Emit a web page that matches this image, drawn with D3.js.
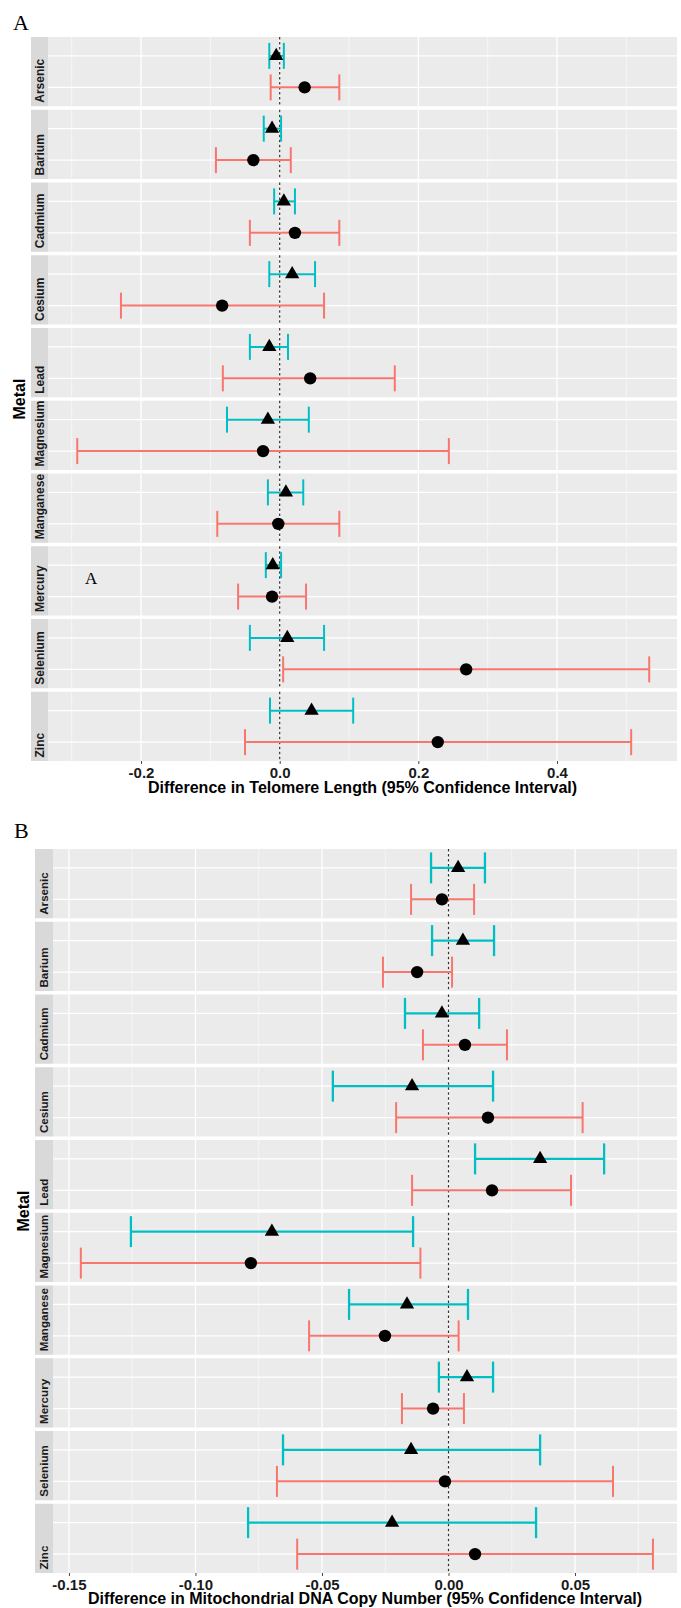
<!DOCTYPE html>
<html>
<head>
<meta charset="utf-8">
<script src="https://cdn.jsdelivr.net/npm/d3@7"></script>
<style>
    body { margin: 0; background: #fff; }
    svg text { font-family: "Liberation Sans", Arial, sans-serif; }
</style>
</head>
<body>
<script>
/*--------- Data -----------------*/

var metals = ["Arsenic", "Barium", "Cadmium", "Cesium", "Lead", "Magnesium", "Manganese", "Mercury", "Selenium", "Zinc"];
var groups = ["triangle", "circle"];

// telomere length (panel A)
var telo_tri_est = [-0.005, -0.011, 0.006, 0.018, -0.015, -0.017, 0.009, -0.010, 0.011, 0.046];
var telo_tri_lo = [-0.015, -0.023, -0.008, -0.015, -0.043, -0.076, -0.017, -0.020, -0.043, -0.014];
var telo_tri_hi = [0.006, 0.002, 0.022, 0.051, 0.012, 0.042, 0.034, 0.002, 0.064, 0.106];
var telo_circ_est = [0.036, -0.038, 0.022, -0.083, 0.044, -0.024, -0.002, -0.011, 0.269, 0.228];
var telo_circ_lo = [-0.013, -0.092, -0.043, -0.229, -0.082, -0.292, -0.090, -0.060, 0.005, -0.050];
var telo_circ_hi = [0.086, 0.016, 0.086, 0.064, 0.166, 0.244, 0.086, 0.038, 0.533, 0.507];

// mitochondrial DNA copy number (panel B)
var mt_tri_est = [0.0038, 0.0057, -0.0026, -0.0144, 0.0362, -0.0698, -0.0164, 0.0073, -0.0148, -0.0223];
var mt_tri_lo = [-0.0069, -0.0065, -0.0172, -0.0457, 0.0105, -0.1255, -0.0393, -0.0038, -0.0654, -0.0792];
var mt_tri_hi = [0.0144, 0.0180, 0.0121, 0.0176, 0.0615, -0.0140, 0.0077, 0.0176, 0.0362, 0.0346];
var mt_circ_est = [-0.0026, -0.0124, 0.0065, 0.0156, 0.0172, -0.0781, -0.0251, -0.0061, -0.0014, 0.0105];
var mt_circ_lo = [-0.0148, -0.0259, -0.0101, -0.0207, -0.0144, -0.1453, -0.0551, -0.0184, -0.0678, -0.0598];
var mt_circ_hi = [0.0101, 0.0014, 0.0231, 0.0530, 0.0484, -0.0111, 0.0040, 0.0061, 0.0650, 0.0808];

var telo_ticks = [-0.2, 0, 0.2, 0.4];
var telo_minor = [-0.3, -0.1, 0.1, 0.3, 0.5];
var mt_ticks = [-0.15, -0.10, -0.05, 0, 0.05];
var mt_minor = [-0.125, -0.075, -0.025, 0.025, 0.075];

var cyan = "#00BFC4";
var red = "#F8766D";

/*--------- svg -----------------*/
var width = 681;
var height = 1608;

var svg = d3.select("body")
    .append("svg")
    .attr("width", width)
    .attr("height", height);

/*--------- one forest panel -----------------*/
function drawPanel(p) {
    var x = d3.scaleLinear()
        .domain(p.domain)
        .range([p.left, p.right]);

    var facet = d3.scaleBand()
        .domain(metals)
        .range([p.top, p.bottom])
        .paddingInner(0.048);

    var row = d3.scalePoint()
        .domain(groups)
        .range([0, facet.bandwidth()])
        .padding(0.6);

    var bw = facet.bandwidth();
    var g = svg.append("g");

    var f = g.selectAll(".facet")
        .data(metals)
        .enter()
        .append("g")
        .attr("transform", function (d) { return "translate(0," + facet(d) + ")"; });

    // strip on the left
    f.append("rect")
        .attr("x", p.stripLeft)
        .attr("width", p.left - p.stripLeft)
        .attr("height", bw)
        .attr("fill", "#d9d9d9");

    f.append("text")
        .attr("transform", "translate(" + p.stripText + "," + (bw - 3.5) + ") rotate(-90)")
        .style("font-size", p.stripSize + "px")
        .style("font-weight", "bold")
        .attr("fill", "#1a1a1a")
        .text(function (d) { return d; });

    // panel background + grid
    f.append("rect")
        .attr("x", p.left)
        .attr("width", p.right - p.left)
        .attr("height", bw)
        .attr("fill", "#ebebeb");

    f.selectAll(".minor")
        .data(p.minor)
        .enter()
        .append("line")
        .attr("x1", function (d) { return x(d); })
        .attr("x2", function (d) { return x(d); })
        .attr("y1", 0)
        .attr("y2", bw)
        .attr("stroke", "#fafafa")
        .attr("stroke-width", 0.7);

    f.selectAll(".major")
        .data(p.ticks)
        .enter()
        .append("line")
        .attr("x1", function (d) { return x(d); })
        .attr("x2", function (d) { return x(d); })
        .attr("y1", 0)
        .attr("y2", bw)
        .attr("stroke", "#fff")
        .attr("stroke-width", 1.3);

    f.selectAll(".hgrid")
        .data(groups)
        .enter()
        .append("line")
        .attr("x1", p.left)
        .attr("x2", p.right)
        .attr("y1", function (d) { return row(d); })
        .attr("y2", function (d) { return row(d); })
        .attr("stroke", "#fff")
        .attr("stroke-width", 1.3);

    // error bars
    f.each(function (m, i) {
        var cell = d3.select(this);
        var rows = p.series.map(function (s, j) {
            return { grp: groups[j], est: s.est[i], lo: s.lo[i], hi: s.hi[i], color: s.color, width: s.width };
        });

        var bars = cell.selectAll(".bar")
            .data(rows)
            .enter()
            .append("g")
            .attr("transform", function (d) { return "translate(0," + row(d.grp) + ")"; });

        bars.append("line")
            .attr("x1", function (d) { return x(d.lo); })
            .attr("x2", function (d) { return x(d.hi); })
            .attr("stroke", function (d) { return d.color; })
            .attr("stroke-width", function (d) { return d.width; });
        bars.append("line")
            .attr("x1", function (d) { return x(d.lo); })
            .attr("x2", function (d) { return x(d.lo); })
            .attr("y1", -p.cap)
            .attr("y2", p.cap)
            .attr("stroke", function (d) { return d.color; })
            .attr("stroke-width", function (d) { return d.width; });
        bars.append("line")
            .attr("x1", function (d) { return x(d.hi); })
            .attr("x2", function (d) { return x(d.hi); })
            .attr("y1", -p.cap)
            .attr("y2", p.cap)
            .attr("stroke", function (d) { return d.color; })
            .attr("stroke-width", function (d) { return d.width; });

        // zero line
        cell.append("line")
            .attr("x1", x(0))
            .attr("x2", x(0))
            .attr("y1", 0)
            .attr("y2", bw)
            .attr("stroke", "#333")
            .attr("stroke-width", 1.2)
            .attr("stroke-dasharray", "2.5,2.5");

        // points
        bars.filter(function (d) { return d.grp == "triangle"; })
            .append("path")
            .attr("d", d3.symbol().type(d3.symbolTriangle).size(88))
            .attr("transform", function (d) { return "translate(" + x(d.est) + ",0)"; })
            .attr("fill", "#000");
        bars.filter(function (d) { return d.grp == "circle"; })
            .append("circle")
            .attr("cx", function (d) { return x(d.est); })
            .attr("r", 6.2)
            .attr("fill", "#000");
        bars.raise();
    });

    // x axis
    var axis = g.append("g")
        .attr("transform", "translate(0," + p.bottom + ")")
        .call(d3.axisBottom(x).tickValues(p.ticks).tickFormat(p.fmt).tickSize(3).tickPadding(3));
    axis.select(".domain").remove();
    axis.selectAll("line").attr("stroke", "#444");
    axis.selectAll("text")
        .attr("fill", "#1a1a1a")
        .style("font-size", "15px")
        .style("font-weight", "bold");

    g.append("text")
        .attr("x", (p.left + p.right) / 2)
        .attr("y", p.bottom + p.titleGap)
        .attr("text-anchor", "middle")
        .style("font-size", "16px")
        .style("font-weight", "bold")
        .attr("fill", "#000")
        .text(p.title);

    g.append("text")
        .attr("transform", "translate(" + p.metalX + "," + ((p.top + p.bottom) / 2) + ") rotate(-90)")
        .attr("text-anchor", "middle")
        .style("font-size", "16px")
        .style("font-weight", "bold")
        .attr("fill", "#000")
        .text("Metal");

    g.append("text")
        .attr("x", p.labelX)
        .attr("y", p.labelY)
        .style("font-family", "'Liberation Serif', 'Times New Roman', serif")
        .style("font-size", "22px")
        .attr("fill", "#000")
        .text(p.label);

    return { x: x, facet: facet, row: row };
}

/*--------- Panel A : telomere -----------------*/
var panelA = drawPanel({
    top: 37, bottom: 761, left: 48, right: 677, stripLeft: 31, stripText: 43.5, stripSize: 12,
    domain: [-0.3342, 0.5731], ticks: telo_ticks, minor: telo_minor,
    fmt: function (d) { return d.toFixed(1); },
    cap: 13, titleGap: 32, metalX: 25, labelX: 13, labelY: 30, label: "A",
    title: "Difference in Telomere Length (95% Confidence Interval)",
    series: [
        { est: telo_tri_est, lo: telo_tri_lo, hi: telo_tri_hi, color: cyan, width: 2 },
        { est: telo_circ_est, lo: telo_circ_lo, hi: telo_circ_hi, color: red, width: 2 }
    ]
});

// stray letter sitting in the Mercury facet
svg.append("text")
    .attr("x", 85)
    .attr("y", panelA.facet("Mercury") + 38)
    .style("font-family", "'Liberation Serif', 'Times New Roman', serif")
    .style("font-size", "17px")
    .attr("fill", "#000")
    .text("A");

/*--------- Panel B : mtDNA -----------------*/
drawPanel({
    top: 849, bottom: 1573, left: 53, right: 677, stripLeft: 35, stripText: 48.3, stripSize: 11.6,
    domain: [-0.1563, 0.0903], ticks: mt_ticks, minor: mt_minor,
    fmt: function (d) { return d.toFixed(2); },
    cap: 15.5, titleGap: 31, metalX: 29, labelX: 14, labelY: 838, label: "B",
    title: "Difference in Mitochondrial DNA Copy Number (95% Confidence Interval)",
    series: [
        { est: mt_tri_est, lo: mt_tri_lo, hi: mt_tri_hi, color: cyan, width: 2.3 },
        { est: mt_circ_est, lo: mt_circ_lo, hi: mt_circ_hi, color: red, width: 2 }
    ]
});
</script>
</body>
</html>
